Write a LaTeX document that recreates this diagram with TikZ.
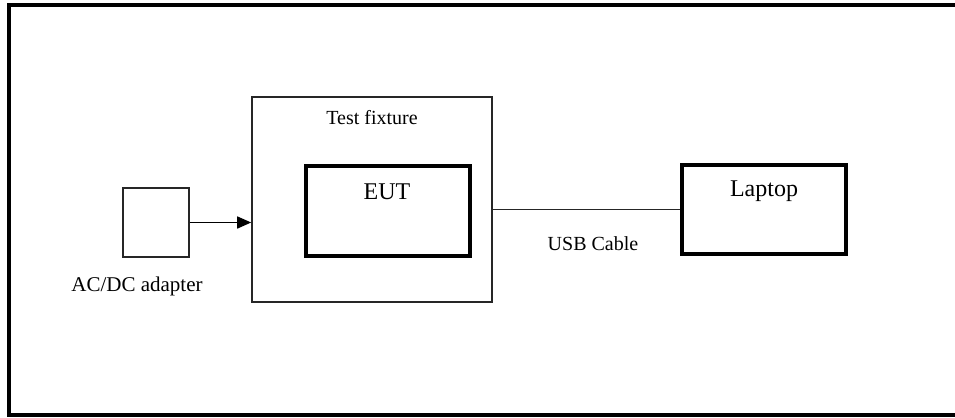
\documentclass[tikz,border=0pt]{standalone}
\usepackage{fontspec}
\setmainfont{Liberation Serif}
\usetikzlibrary{arrows.meta,positioning}

\begin{document}
\begin{tikzpicture}[
  x=0.5pt,y=-0.5pt,
  every node/.style={font=\fontsize{10}{12}\selectfont,align=center,inner sep=0pt},
  thinbox/.style={draw=black!85,line width=0.8pt,minimum width=#1},
  thickbox/.style={draw=black,line width=2pt},
  bigtext/.style={font=\fontsize{12}{14}\selectfont,anchor=base},
  smalltext/.style={anchor=base},
  arrow/.style={-{Triangle[length=7pt,width=6pt]},line width=0.8pt}
]
\useasboundingbox (0,0) rectangle (955,418);
% frame, open on the right
\draw[line width=2pt] (955,5) -- (9,5) -- (9,415) -- (955,415);

\node[thinbox=33pt,minimum height=34.5pt,line width=0.7pt] (adapter) at (156,222.5) {};
\node[thinbox=120pt,minimum height=102.5pt] (fixture) at (372,199.5) {};
\node[thickbox,minimum width=82pt,minimum height=45pt] (eut) at (388,211) {};
\node[thickbox,minimum width=82pt,minimum height=44.5pt] (laptop) at (764,209.5) {};

\node[smalltext] (fixturelbl) at (372,124) {Test fixture};
\node[bigtext] (eutlbl) at (387,199) {EUT};
\node[bigtext] (laptoplbl) at (764,196) {Laptop};
\node[smalltext] (usblbl) at (593,250) {USB Cable};
\node[smalltext,font=\fontsize{10.5}{12}\selectfont] (adapterlbl) at (137,291) {AC/DC adapter};

\draw[arrow] (adapter.east) -- (adapter.east -| fixture.west);
\draw[line width=0.8pt,black!85] (laptop.west -| fixture.east) -- (laptop.west);
\end{tikzpicture}
\end{document}
